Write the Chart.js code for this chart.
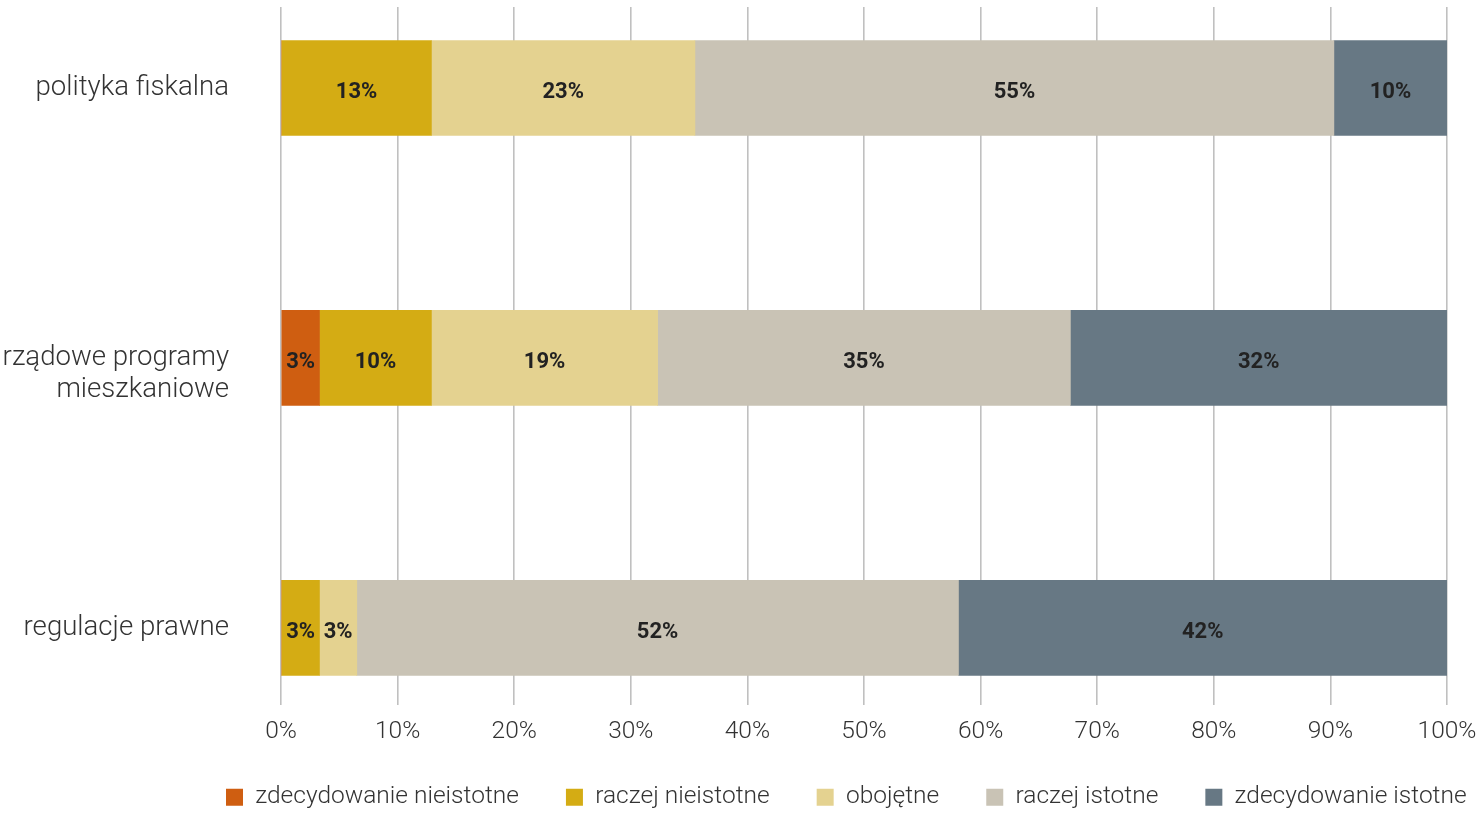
<!DOCTYPE html>
<html lang="pl">
<head>
<meta charset="UTF-8">
<title>Istotność czynników</title>
<script src="https://cdn.jsdelivr.net/npm/chart.js@4.4.1/dist/chart.umd.min.js"></script>
<style>
  * { box-sizing: border-box; margin: 0; padding: 0; }
  html, body { width: 1476px; height: 816px; overflow: hidden; background: #fff; }
  .chart-container { position: relative; width: 1476px; height: 816px; }
</style>
</head>
<body>
<div class="chart-container">
  <canvas id="chart"></canvas>
</div>
<script>
  const categories = [
    'polityka fiskalna',
    ['rządowe programy', 'mieszkaniowe'],
    'regulacje prawne'
  ];
  const seriesNames = ['zdecydowanie nieistotne', 'raczej nieistotne', 'obojętne', 'raczej istotne', 'zdecydowanie istotne'];
  const seriesColors = ['#CF5E11', '#D4AC14', '#E4D290', '#C9C3B5', '#677884'];

  // udział procentowy odpowiedzi, kolejno dla każdej kategorii
  const zdecydowanieNieistotne = [0, 3.3, 0];
  const raczejNieistotne = [12.9, 9.6, 3.3];
  const obojetne = [22.6, 19.4, 3.2];
  const raczejIstotne = [54.8, 35.4, 51.6];
  const zdecydowanieIstotne = [9.7, 32.3, 41.9];

  const xTicks = [0, 10, 20, 30, 40, 50, 60, 70, 80, 90, 100];

  const allSeries = [zdecydowanieNieistotne, raczejNieistotne, obojetne, raczejIstotne, zdecydowanieIstotne];

  const datasets = allSeries.map((vals, s) => ({
    label: seriesNames[s],
    data: vals.map((v, i) => ({ x: v, y: i })),
    backgroundColor: seriesColors[s],
    borderWidth: 0,
    barThickness: 95
  }));

  // etykiety wartości na słupkach
  const valueLabels = {
    id: 'valueLabels',
    afterDatasetsDraw(chart) {
      const ctx = chart.ctx;
      ctx.save();
      ctx.font = 'bold 22px Roboto';
      ctx.fillStyle = '#222';
      ctx.textAlign = 'center';
      ctx.textBaseline = 'middle';
      chart.data.datasets.forEach((ds, di) => {
        const meta = chart.getDatasetMeta(di);
        meta.data.forEach((bar, i) => {
          const v = ds.data[i].x;
          if (!v) return;
          const cx = (bar.x + bar.base) / 2;
          ctx.fillText(Math.round(v) + '%', cx, bar.y + 4.5);
        });
      });
      ctx.restore();
    }
  };

  // przesunięcie legendy (jak w oryginale: w prawo i niżej)
  const legendPlace = {
    id: 'legendPlace',
    afterLayout(chart) {
      const lg = chart.legend;
      lg.left = 179;
      lg.right = 1560;
      lg.top = 738;
      lg.bottom = 830;
      lg.width = lg.right - lg.left;
      lg.height = lg.bottom - lg.top;
    }
  };

  new Chart(document.getElementById('chart'), {
    type: 'bar',
    data: { datasets },
    options: {
      indexAxis: 'y',
      responsive: true,
      maintainAspectRatio: false,
      animation: false,
      layout: { padding: { top: 7, right: 0, bottom: 0, left: 0 } },
      plugins: {
        legend: {
          position: 'bottom',
          align: 'start',
          maxHeight: 57.5,
          labels: {
            boxWidth: 17,
            boxHeight: 17,
            padding: 47,
            color: '#333',
            font: { family: 'Roboto', weight: 300, size: 24.5 }
          }
        },
        tooltip: { enabled: false }
      },
      scales: {
        x: {
          stacked: true,
          min: 0,
          max: 100,
          afterBuildTicks: scale => { scale.ticks = xTicks.map(v => ({ value: v })); },
          afterFit: scale => {
            scale.paddingLeft = 0;
            scale.paddingRight = 29;
          },
          grid: { color: '#c0c0c0', lineWidth: 1.6, tickLength: 8 },
          border: { display: false },
          ticks: {
            color: '#333',
            padding: 14.5,
            maxRotation: 0,
            font: { family: 'Roboto', weight: 300, size: 24.5, lineHeight: 1 },
            callback: v => v + '%'
          }
        },
        y: {
          type: 'linear',
          stacked: true,
          reverse: true,
          offset: false,
          min: -0.3,
          max: 2.256,
          afterBuildTicks: scale => { scale.ticks = categories.map((c, i) => ({ value: i })); },
          afterFit: scale => {
            scale.width = 281;
            scale.paddingTop = 0;
            scale.paddingBottom = 0;
          },
          grid: { display: true, offset: false, drawOnChartArea: false, color: 'transparent', tickLength: 52 },
          border: { display: false },
          ticks: {
            color: '#333',
            padding: 0,
            font: { family: 'Roboto', weight: 300, size: 27.6, lineHeight: 1.16 },
            // w oryginale pierwsza linia etykiety dwuwierszowej stoi na wysokości środka słupka
            callback: v => Array.isArray(categories[v]) ? ['', ...categories[v]] : categories[v]
          }
        }
      }
    },
    plugins: [valueLabels, legendPlace]
  });
</script>
</body>
</html>
